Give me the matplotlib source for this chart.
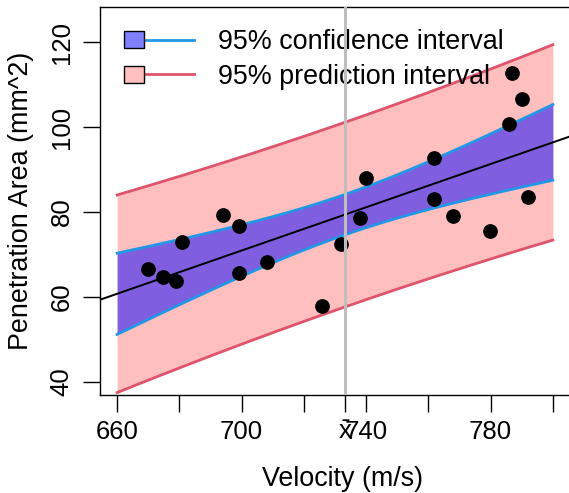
import numpy as np
import matplotlib
matplotlib.use("Agg")
import matplotlib.pyplot as plt
from matplotlib.patches import Rectangle
from matplotlib.lines import Line2D
from matplotlib.legend_handler import HandlerBase

plt.rcParams['font.family'] = ['Liberation Sans', 'DejaVu Sans']
plt.rcParams['mathtext.fontset'] = 'custom'
plt.rcParams['mathtext.rm'] = 'Liberation Sans'
plt.rcParams['mathtext.it'] = 'Liberation Sans'

# ---- data ----
velocity = [670.0, 674.9, 678.9, 681.0, 693.9, 699.0, 699.0, 708.0, 725.8, 731.9,
            737.9, 740.0, 761.9, 761.9, 767.9, 779.9, 786.0, 787.0, 790.0, 791.9]
area = [66.45, 64.57, 63.70, 72.98, 79.18, 76.75, 65.68, 68.10, 57.90, 72.34,
        78.63, 87.89, 92.60, 83.02, 79.10, 75.41, 100.78, 112.79, 106.57, 83.49]
band_range = [660, 800]
x_major = [660, 700, 740, 780]
x_minor = [680, 720, 760, 800]
y_ticks = [40, 60, 80, 100, 120]
legend_labels = ["95% confidence interval", "95% prediction interval"]
t_crit = 2.100922  # t(0.975, df=18)

x = np.asarray(velocity)
y = np.asarray(area)
n = len(x)
xbar = x.mean()
b1, b0 = np.polyfit(x, y, 1)
resid = y - (b0 + b1 * x)
s = np.sqrt(np.sum(resid ** 2) / (n - 2))
sxx = np.sum((x - xbar) ** 2)

xg = np.linspace(band_range[0], band_range[1], 200)
yg = b0 + b1 * xg
se_conf = s * np.sqrt(1 / n + (xg - xbar) ** 2 / sxx)
se_pred = s * np.sqrt(1 + 1 / n + (xg - xbar) ** 2 / sxx)

PRED_FILL = "#FFBFBF"
CONF_FILL = (0, 0, 1, 0.5)
PRED_LINE = "#DF536B"
CONF_LINE = "#2297E6"

TICK_FS = 18.5
LAB_FS = 19.4

W, H = 569, 493
fig = plt.figure(figsize=(W / 100, H / 100), dpi=100)
ax = fig.add_axes([100 / W, (H - 395.3) / H, 484 / W, 388 / H])
ax.set_xlim(654.5, 810)
ax.set_ylim(36.8, 128.2)

ax.fill_between(xg, yg - t_crit * se_pred, yg + t_crit * se_pred, color=PRED_FILL, lw=0, zorder=1)
ax.fill_between(xg, yg - t_crit * se_conf, yg + t_crit * se_conf, color=CONF_FILL, lw=0, zorder=2)
ax.plot(xg, yg + t_crit * se_conf, color=CONF_LINE, lw=2.0, zorder=3)
ax.plot(xg, yg - t_crit * se_conf, color=CONF_LINE, lw=2.0, zorder=3)
ax.plot(xg, yg + t_crit * se_pred, color=PRED_LINE, lw=2.0, zorder=3)
ax.plot(xg, yg - t_crit * se_pred, color=PRED_LINE, lw=2.0, zorder=3)
xl = np.array([650, 815])
ax.plot(xl, b0 + b1 * xl, color="black", lw=1.4, zorder=4)
ax.plot(x, y, 'o', color="black", ms=9.6, zorder=5)
ax.axvline(xbar, color="#BEBEBE", lw=2.2, zorder=10)


class BoxLineHandler(HandlerBase):
    def create_artists(self, legend, orig_handle, xdescent, ydescent, width, height, fontsize, trans):
        fc, lc = orig_handle
        bw = width * 0.285
        bh = height
        rect = Rectangle((-xdescent, -ydescent), bw, bh,
                         facecolor=fc, edgecolor="black", lw=1.0, transform=trans)
        line = Line2D([-xdescent + bw, -xdescent + width], [-ydescent + height / 2] * 2,
                      color=lc, lw=2.0, transform=trans)
        return [line, rect]


h1 = ("#8080FF", CONF_LINE)
h2 = (PRED_FILL, PRED_LINE)
leg = ax.legend([h1, h2], legend_labels, handler_map={tuple: BoxLineHandler()},
                loc="upper left", bbox_to_anchor=(24 / 484, 1 - 22 / 388),
                frameon=False, fontsize=LAB_FS, handlelength=2.6, handleheight=0.6,
                handletextpad=0.89, labelspacing=0.32, borderpad=0, borderaxespad=0)
leg.set_zorder(6)

ax.set_xticks(x_major + x_minor + [xbar])
ax.set_xticklabels([str(v) for v in x_major] + [""] * len(x_minor) + [r"$\mathrm{\bar{x}}$"])
ax.set_yticks(y_ticks)
ax.set_yticklabels([str(v) for v in y_ticks], rotation=90, va="center")
ax.tick_params(axis="both", direction="out", length=12, width=1.0, labelsize=TICK_FS, pad=7)
ax.tick_params(axis="x", pad=6)
for sp in ax.spines.values():
    sp.set_linewidth(1.0)

ax.set_xlabel("Velocity (m/s)", fontsize=LAB_FS, labelpad=15.5)
ax.set_ylabel("Penetration Area (mm^2)", fontsize=LAB_FS, labelpad=11)

fig.savefig("out.png", dpi=100)
